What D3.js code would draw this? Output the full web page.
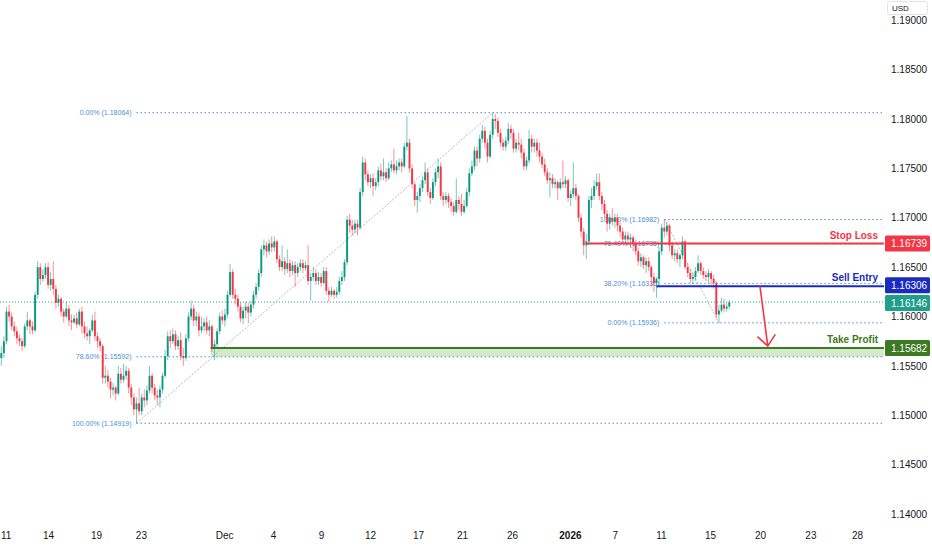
<!DOCTYPE html>
<html lang="en">
<head>
<meta charset="UTF-8">
<title>EURUSD 4H</title>
<script src="https://cdn.jsdelivr.net/npm/d3@7/dist/d3.min.js"></script>
<style>
  html, body { margin: 0; padding: 0; background: #fff; }
  svg { display: block; font-family: "Liberation Sans", Arial, sans-serif; }
</style>
</head>
<body>
<div id="box"></div>
<script>
// 4H candles (index 0 = left edge)
const opens = [
1.1558,1.1563,1.1575,1.1605,1.1600,1.1590,1.1585,1.1578,1.1575,1.1570,
1.1590,1.1596,1.1590,1.1586,1.1622,1.1650,1.1638,1.1642,1.1650,1.1632,
1.1638,1.1628,1.1614,1.1618,1.1605,1.1600,1.1608,1.1596,1.1594,1.1598,
1.1592,1.1605,1.1590,1.1583,1.1580,1.1586,1.1596,1.1580,1.1575,1.1570,
1.1538,1.1540,1.1534,1.1526,1.1528,1.1522,1.1542,1.1536,1.1540,1.1545,
1.1528,1.1518,1.1506,1.1512,1.1504,1.1518,1.1515,1.1525,1.1540,1.1528,
1.1520,1.1518,1.1526,1.1540,1.1560,1.1580,1.1575,1.1582,1.1570,1.1576,
1.1560,1.1558,1.1578,1.1600,1.1608,1.1596,1.1600,1.1586,1.1590,1.1594,
1.1586,1.1590,1.1568,1.1572,1.1585,1.1600,1.1596,1.1602,1.1622,1.1645,
1.1622,1.1618,1.1610,1.1598,1.1606,1.1610,1.1604,1.1612,1.1622,1.1630,
1.1644,1.1668,1.1672,1.1666,1.1674,1.1670,1.1676,1.1658,1.1650,1.1656,
1.1648,1.1654,1.1646,1.1652,1.1644,1.1650,1.1654,1.1649,1.1652,1.1636,
1.1640,1.1644,1.1636,1.1640,1.1634,1.1646,1.1626,1.1622,1.1626,1.1622,
1.1625,1.1636,1.1640,1.1655,1.1698,1.1692,1.1688,1.1694,1.1690,1.1726,
1.1756,1.1744,1.1736,1.1740,1.1732,1.1736,1.1748,1.1742,1.1746,1.1740,
1.1750,1.1754,1.1748,1.1752,1.1756,1.1752,1.1772,1.1776,1.1750,1.1734,
1.1718,1.1722,1.1730,1.1738,1.1746,1.1726,1.1720,1.1736,1.1746,1.1752,
1.1722,1.1718,1.1722,1.1716,1.1712,1.1706,1.1718,1.1714,1.1706,1.1712,
1.1726,1.1745,1.1752,1.1768,1.1760,1.1780,1.1788,1.1776,1.1762,1.1784,
1.1800,1.1798,1.1786,1.1776,1.1772,1.1778,1.1790,1.1786,1.1770,1.1776,
1.1774,1.1766,1.1752,1.1758,1.1780,1.1772,1.1776,1.1768,1.1762,1.1754,
1.1746,1.1738,1.1740,1.1734,1.1736,1.1730,1.1736,1.1734,1.1738,1.1720,
1.1724,1.1730,1.1722,1.1700,1.1686,1.1672,1.1676,1.1718,1.1722,1.1732,
1.1736,1.1722,1.1714,1.1704,1.1694,1.1700,1.1696,1.1700,1.1692,1.1686,
1.1678,1.1682,1.1678,1.1680,1.1674,1.1666,1.1656,1.1660,1.1652,1.1656,
1.1650,1.1640,1.1634,1.1638,1.1666,1.1690,1.1686,1.1692,1.1672,1.1662,
1.1664,1.1658,1.1662,1.1676,1.1650,1.1644,1.1638,1.1640,1.1646,1.1654,
1.1646,1.1642,1.1640,1.1644,1.1638,1.1634,1.1602,1.1606,1.1612,1.1608,1.1610];
const highs = [
1.1570,1.1580,1.1610,1.1612,1.1604,1.1595,1.1590,1.1582,1.1578,1.1593,
1.1605,1.1598,1.1595,1.1625,1.1656,1.1654,1.1648,1.1654,1.1655,1.1645,
1.1656,1.1632,1.1622,1.1620,1.1608,1.1615,1.1612,1.1602,1.1602,1.1604,
1.1608,1.1610,1.1595,1.1590,1.1588,1.1602,1.1605,1.1584,1.1578,1.1572,
1.1550,1.1546,1.1538,1.1533,1.1530,1.1550,1.1548,1.1552,1.1550,1.1548,
1.1532,1.1522,1.1518,1.1528,1.1522,1.1526,1.1530,1.1550,1.1543,1.1532,
1.1526,1.1530,1.1543,1.1566,1.1585,1.1586,1.1588,1.1586,1.1580,1.1584,
1.1568,1.1582,1.1604,1.1616,1.1612,1.1605,1.1604,1.1600,1.1598,1.1600,
1.1596,1.1592,1.1576,1.1588,1.1604,1.1606,1.1608,1.1626,1.1653,1.1648,
1.1628,1.1622,1.1614,1.1610,1.1615,1.1614,1.1616,1.1626,1.1634,1.1648,
1.1672,1.1678,1.1676,1.1678,1.1681,1.1681,1.1678,1.1662,1.1672,1.1660,
1.1668,1.1658,1.1656,1.1656,1.1654,1.1658,1.1658,1.1656,1.1672,1.1644,
1.1650,1.1648,1.1645,1.1644,1.1650,1.1650,1.1630,1.1630,1.1628,1.1630,
1.1640,1.1646,1.1658,1.1702,1.1704,1.1698,1.1698,1.1698,1.1730,1.1762,
1.1760,1.1748,1.1744,1.1745,1.1740,1.1752,1.1755,1.1760,1.1750,1.1756,
1.1758,1.1770,1.1758,1.1760,1.1760,1.1776,1.1803,1.1780,1.1754,1.1736,
1.1726,1.1734,1.1742,1.1756,1.1750,1.1730,1.1740,1.1750,1.1760,1.1756,
1.1726,1.1726,1.1725,1.1720,1.1716,1.1740,1.1722,1.1724,1.1718,1.1730,
1.1750,1.1758,1.1772,1.1772,1.1784,1.1794,1.1792,1.1780,1.1788,1.18064,
1.1805,1.1802,1.1790,1.1780,1.1782,1.1796,1.1794,1.1790,1.1780,1.1786,
1.1780,1.1770,1.1762,1.1789,1.1784,1.1780,1.1780,1.1776,1.1766,1.1760,
1.1750,1.1746,1.1744,1.1740,1.1738,1.1740,1.1758,1.1742,1.1740,1.1728,
1.1756,1.1734,1.1724,1.1704,1.1690,1.1684,1.1722,1.1730,1.1738,1.1745,
1.1745,1.1726,1.1718,1.1708,1.1704,1.1710,1.1704,1.1704,1.1696,1.1690,
1.1686,1.1686,1.1684,1.1682,1.1678,1.1670,1.1664,1.1662,1.1660,1.1660,
1.1652,1.1644,1.1640,1.1670,1.1694,1.16982,1.1696,1.1694,1.1676,1.1668,
1.1668,1.1664,1.1681,1.1678,1.1654,1.1648,1.1644,1.1650,1.1662,1.1656,
1.1650,1.1646,1.1648,1.1646,1.1642,1.1636,1.1612,1.1619,1.1618,1.1614,1.1617];
const lows = [
1.1550,1.1558,1.1572,1.1595,1.1586,1.1580,1.1572,1.1570,1.1565,1.1568,
1.1586,1.1582,1.1582,1.1584,1.1618,1.1632,1.1635,1.1638,1.1628,1.1626,
1.1622,1.1608,1.1610,1.1600,1.1594,1.1598,1.1590,1.1586,1.1592,1.1588,
1.1590,1.1583,1.1578,1.1576,1.1572,1.1584,1.1575,1.1568,1.1565,1.1532,
1.1532,1.1528,1.1517,1.1520,1.1515,1.1520,1.1532,1.1533,1.1536,1.1522,
1.1510,1.1500,1.14919,1.1500,1.1500,1.1508,1.1510,1.1522,1.1522,1.1515,
1.1510,1.1508,1.1522,1.1538,1.1556,1.1568,1.1572,1.1566,1.1566,1.1556,
1.1550,1.1555,1.1575,1.1596,1.1590,1.1590,1.1580,1.1583,1.1585,1.1582,
1.1580,1.1564,1.1556,1.1568,1.1582,1.1592,1.1590,1.1598,1.1620,1.1618,
1.1612,1.1605,1.1594,1.1592,1.1598,1.1593,1.1600,1.1608,1.1618,1.1626,
1.1640,1.1662,1.1660,1.1662,1.1665,1.1666,1.1654,1.1646,1.1646,1.1642,
1.1644,1.1640,1.1642,1.1630,1.1640,1.1646,1.1644,1.1646,1.1632,1.1616,
1.1636,1.1632,1.1632,1.1630,1.1632,1.1622,1.1615,1.1620,1.1618,1.1619,
1.1622,1.1632,1.1636,1.1652,1.1685,1.1682,1.1684,1.1682,1.1688,1.1722,
1.1738,1.1732,1.1730,1.1722,1.1728,1.1732,1.1738,1.1738,1.1736,1.1738,
1.1746,1.1745,1.1744,1.1748,1.1746,1.1750,1.1768,1.1746,1.1730,1.1712,
1.1705,1.1716,1.1726,1.1734,1.1722,1.1714,1.1718,1.1732,1.1740,1.1718,
1.1712,1.1714,1.1710,1.1706,1.1702,1.1704,1.1708,1.1702,1.1704,1.1710,
1.1722,1.1742,1.1748,1.1752,1.1756,1.1776,1.1770,1.1756,1.1760,1.1780,
1.1790,1.1782,1.1772,1.1768,1.1768,1.1774,1.1780,1.1766,1.1766,1.1768,
1.1760,1.1748,1.1748,1.1755,1.1766,1.1766,1.1762,1.1756,1.1750,1.1742,
1.1734,1.1721,1.1730,1.1730,1.1718,1.1728,1.1730,1.1730,1.1716,1.1712,
1.1720,1.1718,1.1696,1.1680,1.1662,1.1658,1.1672,1.1710,1.1718,1.1728,
1.1718,1.1708,1.1700,1.1686,1.1688,1.1692,1.1690,1.1686,1.1680,1.1674,
1.1674,1.1672,1.1670,1.1666,1.1662,1.1652,1.1650,1.1648,1.1644,1.1646,
1.1630,1.1625,1.1619,1.1632,1.1662,1.1680,1.1682,1.1666,1.1658,1.1656,
1.1654,1.1650,1.1658,1.1648,1.1640,1.1634,1.1633,1.1636,1.1644,1.1642,
1.1638,1.1636,1.1634,1.1632,1.1628,1.1598,1.15936,1.1604,1.1604,1.1605,1.1607];
const closes = [
1.1563,1.1575,1.1605,1.1600,1.1590,1.1585,1.1578,1.1575,1.1570,1.1590,
1.1596,1.1590,1.1586,1.1622,1.1650,1.1638,1.1642,1.1650,1.1632,1.1638,
1.1628,1.1614,1.1618,1.1605,1.1600,1.1608,1.1596,1.1594,1.1598,1.1592,
1.1605,1.1590,1.1583,1.1580,1.1586,1.1596,1.1580,1.1575,1.1570,1.1538,
1.1540,1.1534,1.1526,1.1528,1.1522,1.1542,1.1536,1.1540,1.1545,1.1528,
1.1518,1.1506,1.1512,1.1504,1.1518,1.1515,1.1525,1.1540,1.1528,1.1520,
1.1518,1.1526,1.1540,1.1560,1.1580,1.1575,1.1582,1.1570,1.1576,1.1560,
1.1558,1.1578,1.1600,1.1608,1.1596,1.1600,1.1586,1.1590,1.1594,1.1586,
1.1590,1.1568,1.1572,1.1585,1.1600,1.1596,1.1602,1.1622,1.1645,1.1622,
1.1618,1.1610,1.1598,1.1606,1.1610,1.1604,1.1612,1.1622,1.1630,1.1644,
1.1668,1.1672,1.1666,1.1674,1.1670,1.1676,1.1658,1.1650,1.1656,1.1648,
1.1654,1.1646,1.1652,1.1644,1.1650,1.1654,1.1649,1.1652,1.1636,1.1640,
1.1644,1.1636,1.1640,1.1634,1.1646,1.1626,1.1622,1.1626,1.1622,1.1625,
1.1636,1.1640,1.1655,1.1698,1.1692,1.1688,1.1694,1.1690,1.1726,1.1756,
1.1744,1.1736,1.1740,1.1732,1.1736,1.1748,1.1742,1.1746,1.1740,1.1750,
1.1754,1.1748,1.1752,1.1756,1.1752,1.1772,1.1776,1.1750,1.1734,1.1718,
1.1722,1.1730,1.1738,1.1746,1.1726,1.1720,1.1736,1.1746,1.1752,1.1722,
1.1718,1.1722,1.1716,1.1712,1.1706,1.1718,1.1714,1.1706,1.1712,1.1726,
1.1745,1.1752,1.1768,1.1760,1.1780,1.1788,1.1776,1.1762,1.1784,1.1800,
1.1798,1.1786,1.1776,1.1772,1.1778,1.1790,1.1786,1.1770,1.1776,1.1774,
1.1766,1.1752,1.1758,1.1780,1.1772,1.1776,1.1768,1.1762,1.1754,1.1746,
1.1738,1.1740,1.1734,1.1736,1.1730,1.1736,1.1734,1.1738,1.1720,1.1724,
1.1730,1.1722,1.1700,1.1686,1.1672,1.1676,1.1718,1.1722,1.1732,1.1736,
1.1722,1.1714,1.1704,1.1694,1.1700,1.1696,1.1700,1.1692,1.1686,1.1678,
1.1682,1.1678,1.1680,1.1674,1.1666,1.1656,1.1660,1.1652,1.1656,1.1650,
1.1640,1.1634,1.1638,1.1666,1.1690,1.1686,1.1692,1.1672,1.1662,1.1664,
1.1658,1.1662,1.1676,1.1650,1.1644,1.1638,1.1640,1.1646,1.1654,1.1646,
1.1642,1.1640,1.1644,1.1638,1.1634,1.1602,1.1606,1.1612,1.1608,1.1610,1.16146];

// x axis tick labels and the candle index they sit on
const tickLabels = ["11","14","19","23","Dec","4","9","12","17","21","26","2026","7","11","15","20","23","28"];
const tickIdx = [1.7,18,36.4,53.7,85.7,104.5,123,141.8,160.3,177.2,196.4,218.7,236,253.7,272.6,291.8,311.2,329.1];
const priceTicks = [1.14,1.145,1.15,1.155,1.16,1.165,1.17,1.175,1.18,1.185,1.19];

// fib 1: swing low -> swing high
const fibAIdx = [52, 189];
const fibAPrices = [1.14919, 1.18064];
const fibARatios = [0, 0.786, 1];
// fib 2: swing high -> swing low
const fibBIdx = [255, 276];
const fibBPrices = [1.16982, 1.15936];
const fibBRatios = [0, 0.382, 0.764, 1];

// trade plan
const tradeNames = ["Stop Loss", "Sell Entry", "Take Profit"];
const tradePrices = [1.16739, 1.16306, 1.15682];
const tradeStartIdx = [225, 252, 80.5];
const tradeColors = ["#f23645", "#1b2bbd", "#3b7a20"];
const arrowIdx = [291.8, 294.8];
const arrowPrices = [1.16306, 1.15700];

const width = 932, height = 550;
const plotRight = 884, plotBottom = 526;
const up = "#089981", down = "#f23645";

const svg = d3.select("#box").append("svg").attr("width", width).attr("height", height);

const xScale = d3.scaleLinear().domain([-0.5, 339.5]).range([0, plotRight]);
const yScale = d3.scaleLinear().domain([1.14, 1.18]).range([514, 119]);

svg.append("defs").append("clipPath").attr("id", "plotclip")
  .append("rect").attr("x", 0).attr("y", 0).attr("width", plotRight).attr("height", plotBottom);

const plot = svg.append("g").attr("clip-path", "url(#plotclip)");

// current price dotted line
const last = closes[closes.length - 1];
plot.append("line")
  .attr("x1", 0).attr("x2", plotRight)
  .attr("y1", yScale(last)).attr("y2", yScale(last))
  .attr("stroke", "#26a69a").attr("stroke-width", 1).attr("stroke-dasharray", "1,2");

// take profit zone (TP down to 78.6%)
const fibA786 = fibAPrices[1] - fibARatios[1] * (fibAPrices[1] - fibAPrices[0]);
plot.append("rect")
  .attr("x", xScale(tradeStartIdx[2])).attr("width", plotRight - xScale(tradeStartIdx[2]))
  .attr("y", yScale(tradePrices[2])).attr("height", yScale(fibA786) - yScale(tradePrices[2]))
  .attr("fill", "#d4ebcb");

const fibColor = "#4b8fd6";
function drawFib(idx, prices, ratios, fromHigh) {
  const hi = Math.max(prices[0], prices[1]), lo = Math.min(prices[0], prices[1]);
  const x0 = xScale(idx[0]);
  // trend line between the anchors
  plot.append("line")
    .attr("x1", xScale(idx[0])).attr("y1", yScale(prices[0]))
    .attr("x2", xScale(idx[1])).attr("y2", yScale(prices[1]))
    .attr("stroke", "#a8a8a8").attr("stroke-width", 0.8).attr("stroke-dasharray", "2,1.5");
  ratios.forEach(r => {
    const p = fromHigh ? hi - r * (hi - lo) : lo + r * (hi - lo);
    const y = yScale(p);
    plot.append("line").attr("x1", x0).attr("x2", plotRight).attr("y1", y).attr("y2", y)
      .attr("stroke", fibColor).attr("stroke-width", 1).attr("stroke-dasharray", "1.5,2.5");
    plot.append("text").attr("x", x0 - 5).attr("y", y + 2.5)
      .attr("text-anchor", "end").attr("font-size", "7px").attr("fill", fibColor)
      .text((r * 100).toFixed(2) + "% (" + p.toFixed(5) + ")");
  });
}
drawFib(fibAIdx, fibAPrices, fibARatios, true);
// fib 2 is drawn from the anchor at the high, levels counted from the low
drawFib(fibBIdx, fibBPrices, fibBRatios, false);

// candles
const idx = d3.range(closes.length);
const cg = plot.append("g");
cg.selectAll("line.wick").data(idx).join("line").attr("class", "wick")
  .attr("x1", i => xScale(i)).attr("x2", i => xScale(i))
  .attr("y1", i => yScale(Math.max(highs[i], opens[i], closes[i])))
  .attr("y2", i => yScale(Math.min(lows[i], opens[i], closes[i])))
  .attr("stroke", i => closes[i] >= opens[i] ? up : down)
  .attr("stroke-width", 0.9).attr("stroke-opacity", 0.6);
cg.selectAll("rect.body").data(idx).join("rect").attr("class", "body")
  .attr("x", i => xScale(i) - 0.95).attr("width", 1.9)
  .attr("y", i => yScale(Math.max(opens[i], closes[i])))
  .attr("height", i => Math.max(0.8, Math.abs(yScale(opens[i]) - yScale(closes[i]))))
  .attr("fill", i => closes[i] >= opens[i] ? up : down);

// trade lines and labels
tradePrices.forEach((p, k) => {
  const y = yScale(p);
  plot.append("line").attr("x1", xScale(tradeStartIdx[k])).attr("x2", plotRight)
    .attr("y1", y).attr("y2", y).attr("stroke", tradeColors[k]).attr("stroke-width", 2);
  plot.append("text").attr("x", plotRight - 6).attr("y", y - 5)
    .attr("text-anchor", "end").attr("font-size", "10px").attr("font-weight", "bold")
    .attr("fill", tradeColors[k]).text(tradeNames[k]);
});

// arrow from entry toward target
const ax0 = xScale(arrowIdx[0]), ay0 = yScale(arrowPrices[0]);
const ax1 = xScale(arrowIdx[1]), ay1 = yScale(arrowPrices[1]);
const ang = Math.atan2(ay1 - ay0, ax1 - ax0);
const headLen = 14, spread = 0.7;
plot.append("path")
  .attr("d", `M${ax0},${ay0}L${ax1},${ay1}` +
    `M${ax1 - headLen * Math.cos(ang - spread)},${ay1 - headLen * Math.sin(ang - spread)}L${ax1},${ay1}` +
    `L${ax1 - headLen * Math.cos(ang + spread)},${ay1 - headLen * Math.sin(ang + spread)}`)
  .attr("fill", "none").attr("stroke", "#f23645").attr("stroke-width", 1.6);

// right price axis
const yAxis = d3.axisRight(yScale).tickValues(priceTicks).tickFormat(d3.format(".5f"))
  .tickSize(0).tickPadding(7);
const yg = svg.append("g").attr("transform", `translate(${plotRight},0)`).call(yAxis);
yg.select(".domain").remove();
yg.selectAll("text").attr("font-size", "10px").attr("fill", "#131722")
  .attr("font-family", "Liberation Sans, Arial, sans-serif");

// price boxes on the axis
const boxPrices = [tradePrices[0], tradePrices[1], last, tradePrices[2]];
const boxColors = [tradeColors[0], tradeColors[1], "#1f9e8a", tradeColors[2]];
const boxOffsets = [0, -1, 1, 0];
boxPrices.forEach((p, k) => {
  const yc = yScale(p) + boxOffsets[k];
  svg.append("rect").attr("x", plotRight + 1).attr("y", yc - 8).attr("width", 45).attr("height", 16)
    .attr("rx", 1.5).attr("fill", boxColors[k]);
  svg.append("text").attr("x", plotRight + 7).attr("y", yc + 3.6)
    .attr("font-size", "10px").attr("fill", "#fff").text(p.toFixed(5));
});

// bottom time axis
const xAxis = d3.axisBottom(xScale).tickValues(tickIdx)
  .tickFormat((d, i) => tickLabels[i]).tickSize(0).tickPadding(6);
const xg = svg.append("g").attr("transform", `translate(0,${plotBottom})`).call(xAxis);
xg.select(".domain").remove();
xg.selectAll("text").attr("font-size", "10px").attr("fill", "#131722")
  .attr("font-family", "Liberation Sans, Arial, sans-serif")
  .attr("font-weight", (d, i) => tickLabels[i] === "2026" ? "bold" : "normal");

// currency box
svg.append("rect").attr("x", 887.5).attr("y", 1.5).attr("width", 40).attr("height", 13)
  .attr("rx", 2).attr("fill", "#fff").attr("stroke", "#e0e3eb");
svg.append("text").attr("x", 892).attr("y", 11).attr("font-size", "8px")
  .attr("fill", "#131722").text("USD");
</script>
</body>
</html>
